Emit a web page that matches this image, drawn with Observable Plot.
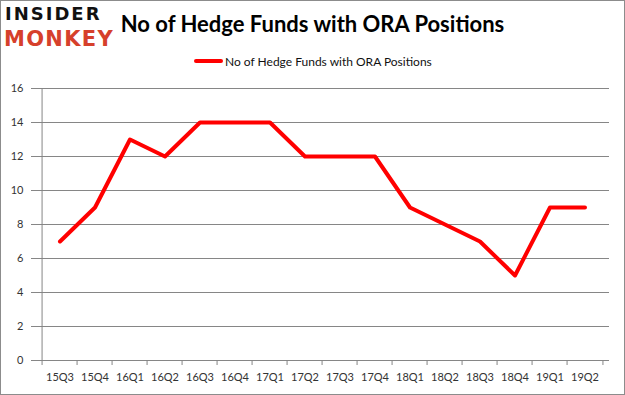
<!DOCTYPE html>
<html>
<head>
<meta charset="utf-8">
<script src="https://cdn.jsdelivr.net/npm/d3@7"></script>
<script src="https://cdn.jsdelivr.net/npm/@observablehq/plot@0.6"></script>
<style>
  html, body { margin: 0; padding: 0; background: #fff; }
  #wrap { position: relative; width: 625px; height: 395px; overflow: hidden; background: #fff; }
  #border { position: absolute; left: 0; top: 0; width: 625px; height: 395px; box-sizing: border-box; border: 1px solid #8c8c8c; pointer-events: none; }
  #logo1 { position: absolute; left: 5px; top: 5px; font: bold 18px "DejaVu Sans"; color: #111; letter-spacing: 2px; line-height: 1; }
  #logo2 { position: absolute; left: 4px; top: 29px; font: bold 21px "DejaVu Sans"; color: #d6402b; letter-spacing: 1.3px; line-height: 1; }
  #title { position: absolute; left: 0; width: 625px; top: 10px; text-align: center; padding-left: 0px; font: bold 22px Lato; color: #000; }
  #legend { position: absolute; top: 53px; left: 194px; height: 16px; display: flex; align-items: center; font: 12px Lato; color: #111; }
  #legend .sw { width: 29px; height: 4px; background: #ff0000; margin-right: 2px; border-radius: 2px; }
  #chart { position: absolute; left: 0; top: 75px; }
</style>
</head>
<body>
<div id="wrap">
  <div id="logo1">INSIDER</div>
  <div id="logo2">MONKEY</div>
  <div id="title">No of Hedge Funds with ORA Positions</div>
  <div id="legend"><span class="sw"></span><span>No of Hedge Funds with ORA Positions</span></div>
  <div id="chart"></div>
  <div id="border"></div>
</div>
<script>
const quarters = ["15Q3","15Q4","16Q1","16Q2","16Q3","16Q4","17Q1","17Q2","17Q3","17Q4","18Q1","18Q2","18Q3","18Q4","19Q1","19Q2"];
const funds = [7, 9, 13, 12, 14, 14, 14, 12, 12, 12, 9, 8, 7, 5, 9, 9];
const yTicks = [0, 2, 4, 6, 8, 10, 12, 14, 16];

const data = quarters.map((q, i) => ({quarter: q, value: funds[i]}));

const W = 625, H = 320, mL = 35, mR = 16, mT = 13, mB = 35;
const bw = (W - mL - mR) / quarters.length;
const gray = "#868686";

const chart = Plot.plot({
  width: W,
  height: H,
  marginLeft: mL,
  marginRight: mR,
  marginTop: mT,
  marginBottom: mB,
  style: {fontFamily: "Lato", fontSize: "11px", color: "#333", background: "transparent"},
  x: {type: "band", domain: quarters, padding: 0},
  y: {domain: [0, 16]},
  marks: [
    Plot.gridY(yTicks, {stroke: gray, strokeOpacity: 1}),
    Plot.ruleY([0], {stroke: gray}),
    Plot.ruleX([quarters[0]], {stroke: gray, dx: -bw / 2}),
    Plot.axisY(yTicks, {tickSize: 4, tickPadding: 8, stroke: gray, fill: "#333", label: null}),
    Plot.axisX({tickSize: 5, tickFormat: () => "", stroke: gray, dx: -bw / 2, label: null}),
    Plot.axisX([quarters[quarters.length - 1]], {tickSize: 5, tickFormat: () => "", stroke: gray, dx: bw / 2, label: null}),
    Plot.axisX({tickSize: 0, tickPadding: 13, fill: "#333", label: null}),
    Plot.line(data, {x: "quarter", y: "value", stroke: "#ff0000", strokeWidth: 4, strokeLinejoin: "round", strokeLinecap: "round"})
  ]
});
document.getElementById("chart").appendChild(chart);
</script>
</body>
</html>
